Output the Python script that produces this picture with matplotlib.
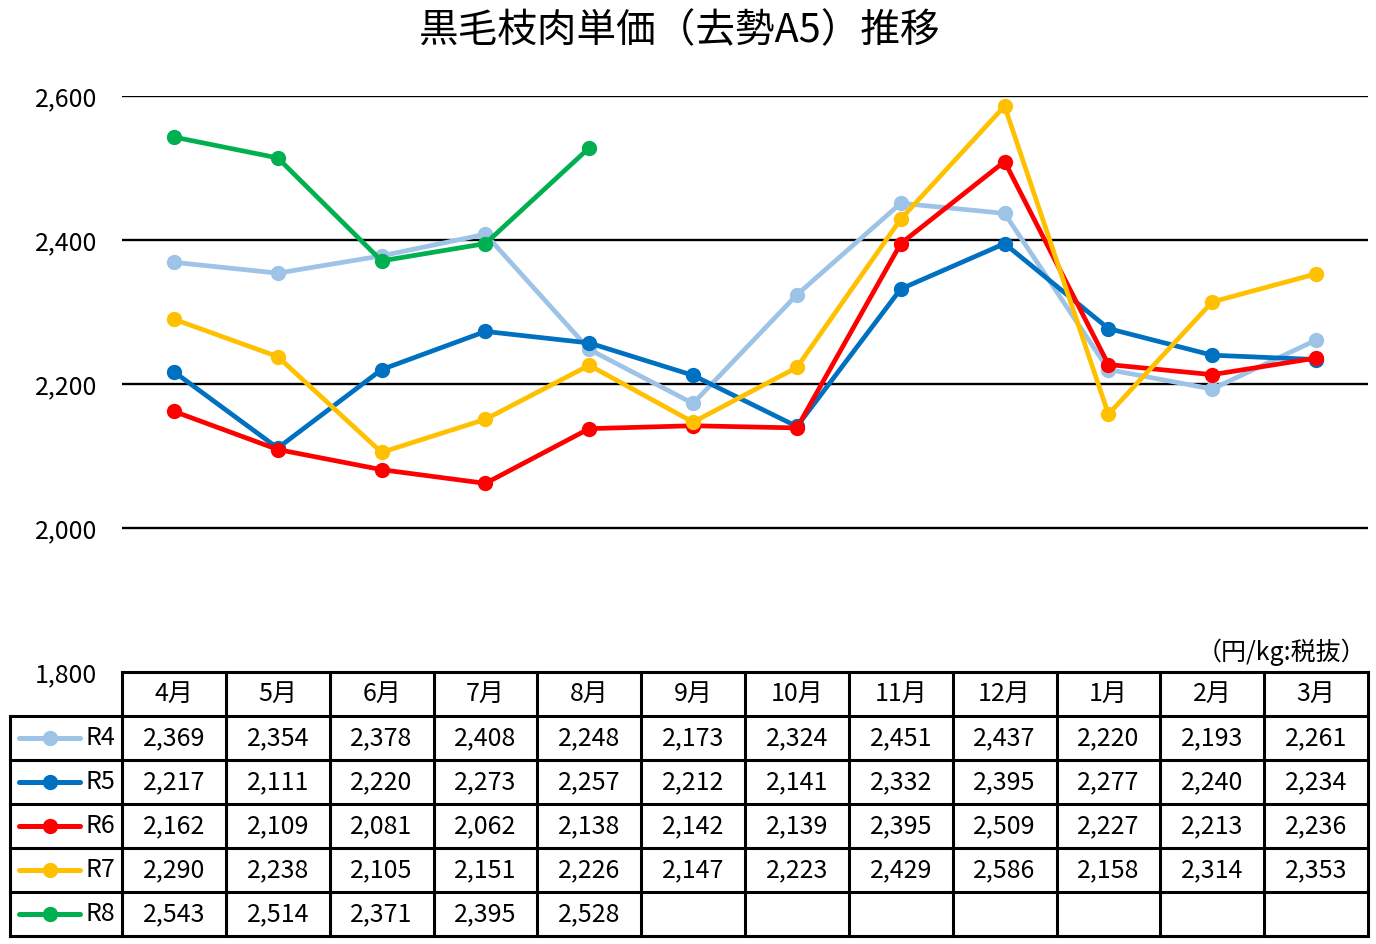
import numpy as np
import matplotlib.pyplot as plt

plt.rcParams['font.family'] = ['Noto Sans CJK JP', 'DejaVu Sans']

months = ['4月', '5月', '6月', '7月', '8月', '9月', '10月', '11月', '12月', '1月', '2月', '3月']
r4 = [2369, 2354, 2378, 2408, 2248, 2173, 2324, 2451, 2437, 2220, 2193, 2261]
r5 = [2217, 2111, 2220, 2273, 2257, 2212, 2141, 2332, 2395, 2277, 2240, 2234]
r6 = [2162, 2109, 2081, 2062, 2138, 2142, 2139, 2395, 2509, 2227, 2213, 2236]
r7 = [2290, 2238, 2105, 2151, 2226, 2147, 2223, 2429, 2586, 2158, 2314, 2353]
r8 = [2543, 2514, 2371, 2395, 2528]
series = [('R4', r4, '#9DC3E6'), ('R5', r5, '#0070C0'), ('R6', r6, '#FF0000'),
          ('R7', r7, '#FFC000'), ('R8', r8, '#00B050')]
yticks = [1800, 2000, 2200, 2400, 2600]

W, H = 1376, 944
fig = plt.figure(figsize=(W / 100, H / 100), dpi=100)

# chart area
ax = fig.add_axes([122 / W, 1 - 672 / H, (1368 - 122) / W, (672 - 96) / H])
ax.set_xlim(-0.5, 11.5)
ax.set_ylim(1800, 2600)
for s in ax.spines.values():
    s.set_visible(False)
ax.set_xticks([])
ax.set_yticks(yticks)
ax.set_yticklabels([f'{v:,}' for v in yticks], fontsize=18)
ax.tick_params(axis='y', length=0, pad=18)
for v in yticks[1:]:
    ax.axhline(v, color='black', lw=1.7, zorder=1)

for name, vals, col in series:
    x = np.arange(len(vals))
    ax.plot(x, vals, color=col, lw=3.4, marker='o', ms=10, zorder=3, clip_on=False)

fig.text(680 / W, 1 - 31 / H, '黒毛枝肉単価（去勢A5）推移', ha='center', va='center', fontsize=28.5)
fig.text(1366 / W, 1 - 652 / H, '（円/kg:税抜）', ha='right', va='center', fontsize=18)

# data table
tab = fig.add_axes([122 / W, 1 - 936 / H, (1368 - 122) / W, (936 - 672) / H])
tab.set_xlim(-0.5, 11.5)
tab.set_ylim(6, 0)
tab.axis('off')
colw = (1368 - 122) / 12
left = -0.5 - (122 - 10) / colw
lw = 2.2
tab.plot([-0.5, 11.5], [0, 0], color='black', lw=lw, clip_on=False)
for r in range(1, 7):
    tab.plot([left, 11.5], [r, r], color='black', lw=lw, clip_on=False)
for k in range(13):
    tab.plot([k - 0.5, k - 0.5], [0, 6], color='black', lw=lw, clip_on=False)
tab.plot([left, left], [1, 6], color='black', lw=lw, clip_on=False)

for i, m in enumerate(months):
    tab.text(i, 0.5, m, ha='center', va='center', fontsize=18)

def px(p):
    return -0.5 + (p - 122) / colw

for r, (name, vals, col) in enumerate(series, start=1):
    tab.plot([px(19), px(80)], [r + 0.5, r + 0.5], color=col, lw=3.6,
             solid_capstyle='round', clip_on=False)
    tab.plot([px(50)], [r + 0.5], 'o', color=col, ms=10, clip_on=False)
    tab.text(px(85), r + 0.5, name, ha='left', va='center', fontsize=18)
    for i, v in enumerate(vals):
        tab.text(i, r + 0.5, f'{v:,}', ha='center', va='center', fontsize=18)

fig.savefig('out.png', dpi=100)
